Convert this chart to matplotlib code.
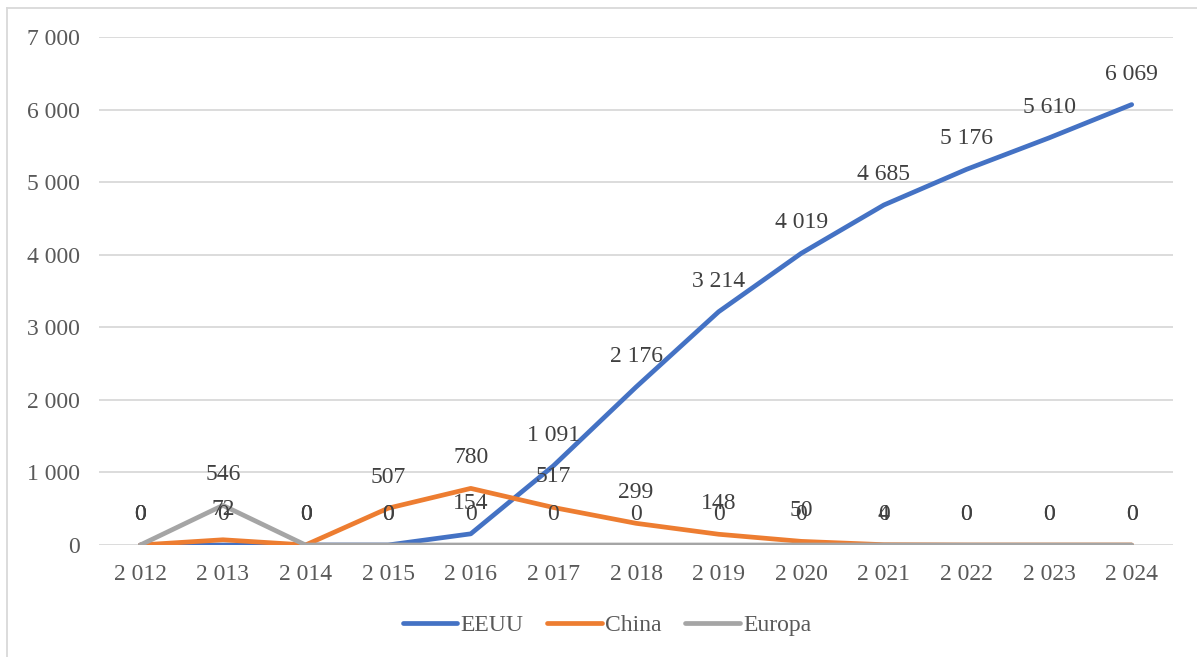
import matplotlib.pyplot as plt
from matplotlib.ticker import FuncFormatter
from matplotlib.lines import Line2D

# 연도별 값
years = [2012, 2013, 2014, 2015, 2016, 2017, 2018, 2019, 2020, 2021, 2022, 2023, 2024]
eeuu = [0, 0, 0, 0, 154, 1091, 2176, 3214, 4019, 4685, 5176, 5610, 6069]
china = [0, 72, 0, 507, 780, 517, 299, 148, 50, 4, 0, 0, 0]
europa = [0, 546, 0, 0, 0, 0, 0, 0, 0, 0, 0, 0, 0]

series = [('EEUU', eeuu, '#4472C4'), ('China', china, '#ED7D31'), ('Europa', europa, '#A5A5A5')]

plt.rcParams['font.family'] = ['Liberation Serif', 'DejaVu Serif']


def sep(v, pos=None):
    # 천 단위 공백 구분
    return '{:,.0f}'.format(v).replace(',', ' ')


fig = plt.figure(figsize=(11.97, 6.57), dpi=100)
ax = fig.add_axes([99 / 1197, 112 / 657, (1173 - 99) / 1197, (545 - 37) / 657])

x = list(range(len(years)))
for name, vals, col in series:
    ax.plot(x, vals, color=col, lw=3.4, solid_capstyle='round', solid_joinstyle='round', label=name, zorder=3)

for name, vals, col in series:
    for xi, v in zip(x, vals):
        ax.annotate(sep(v), (xi, v), xytext=(0, 22), textcoords='offset points',
                    ha='center', va='center', fontsize=17, color='#404040', zorder=4)

ax.set_xlim(-0.5, len(years) - 0.5)
ax.set_ylim(0, 7000)
ax.set_yticks(range(0, 7001, 1000))
ax.yaxis.set_major_formatter(FuncFormatter(sep))
ax.set_xticks(x)
ax.set_xticklabels([sep(y) for y in years])
ax.grid(axis='y', color='#D9D9D9', lw=1.3, zorder=0)
ax.tick_params(length=0, labelsize=17, labelcolor='#595959')
ax.tick_params(axis='y', pad=14)
ax.tick_params(axis='x', pad=14)
for s in ax.spines.values():
    s.set_visible(False)

fig.legend(loc='center', bbox_to_anchor=(607 / 1197, 1 - 625 / 657), ncol=3, frameon=False,
           fontsize=17, labelcolor='#595959', handlelength=2.3, handletextpad=0.15, columnspacing=1.0)

# 차트 테두리
fig.add_artist(Line2D([7 / 1197, 1.0], [1 - 8 / 657, 1 - 8 / 657], transform=fig.transFigure, color='#D9D9D9', lw=1.3))
fig.add_artist(Line2D([7 / 1197, 7 / 1197], [0, 1 - 8 / 657], transform=fig.transFigure, color='#D9D9D9', lw=1.3))

fig.savefig('out.png', dpi=100)
